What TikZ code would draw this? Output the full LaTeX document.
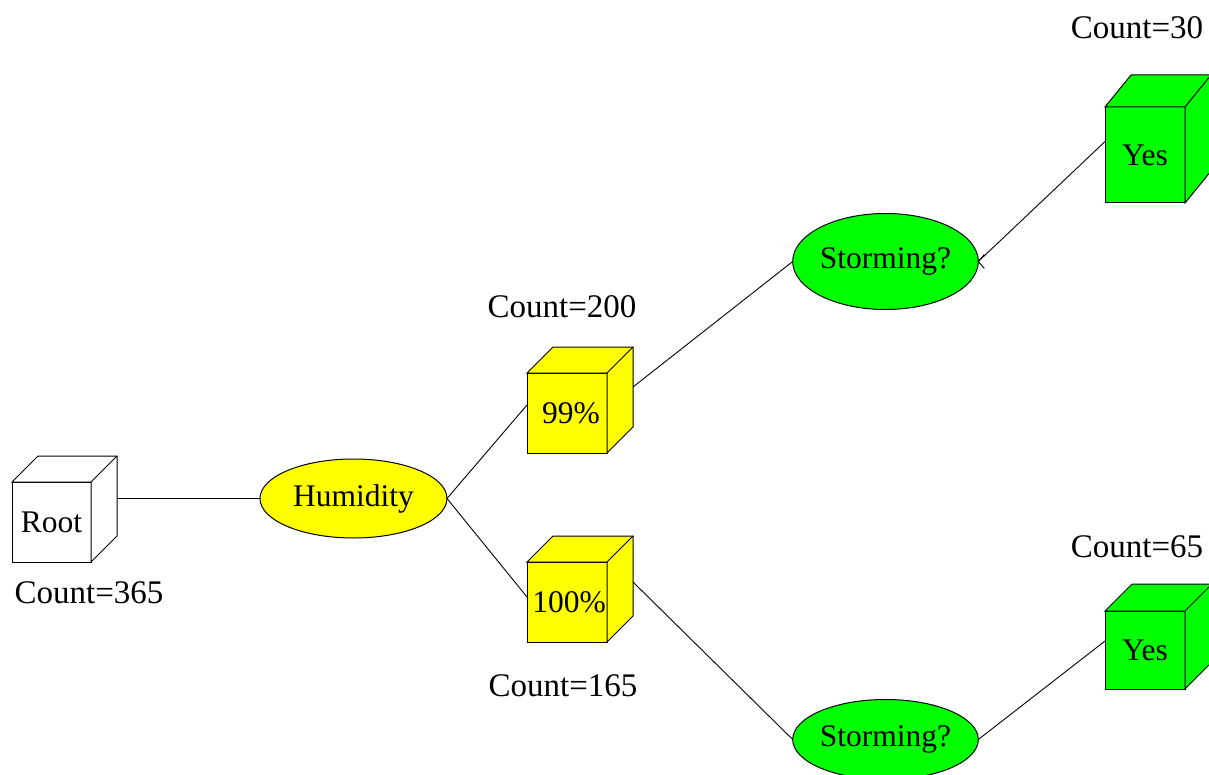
\documentclass[tikz,border=0pt]{standalone}
\usepackage{fontspec}
\setmainfont{Liberation Serif}
\usetikzlibrary{calc,shapes.geometric}
\definecolor{cubeyellow}{RGB}{255,255,0}
\definecolor{cubegreen}{RGB}{0,255,0}
\tikzset{
  face/.style={draw, line width=1pt, inner sep=0pt, outer sep=0pt, line join=miter, font=\fontsize{31.5}{36}\selectfont},
  oval/.style={ellipse, draw, line width=1pt, inner sep=0pt, outer sep=0pt, font=\fontsize{31.5}{36}\selectfont},
  lab/.style={anchor=base, font=\fontsize{33}{40}\selectfont, inner sep=0pt},
  link/.style={line width=0.9pt},
  edge3d/.style={line width=1pt, line join=miter},
}
% name, cx, cy, w, h, dx, dy, colour, text
\newcommand\drawcube[9]{%
  \node[face, fill=#8, minimum width=#4pt, minimum height=#5pt] (#1) at (#2,#3) {#9};
  \draw[edge3d, fill=#8] (#1.north west) -- ++(#6,-#7) -- ++(#4,0) -- ++(0,#5) -- (#1.south east) -- (#1.north east) -- cycle;
  \draw[edge3d] (#1.north east) -- ++(#6,-#7);
  \coordinate (#1-r) at ($(#1.east)+(#6,-#7)$);
}
\begin{document}
\begin{tikzpicture}[x=1pt,y=-1pt]
\useasboundingbox (0,0) rectangle (1209,775);
\clip (0,0) rectangle (1209,775);

% cubes
\drawcube{root}{51.5}{522}{79}{80}{26}{26}{white}{Root}
\drawcube{c99}{567}{413}{80}{80}{26}{26}{cubeyellow}{\hspace*{8pt}99\%}
\drawcube{c100}{567}{602}{80}{80}{26}{26}{cubeyellow}{\hspace*{4pt}100\%}
\drawcube{yes1}{1145}{155}{80}{96}{26}{32}{cubegreen}{Yes}
\drawcube{yes2}{1145}{650}{80}{78}{27}{27}{cubegreen}{Yes}

% ellipses
\node[oval, fill=cubeyellow, minimum width=187pt, minimum height=79pt] (hum) at (353.5,498.5) {Humidity};
\node[oval, fill=cubegreen, minimum width=185pt, minimum height=96pt] (s1) at (885.5,261.5) {Storming?};
\node[oval, fill=cubegreen, minimum width=185pt, minimum height=80pt] (s2) at (885.5,739.5) {Storming?};

% labels
\node[lab] (l365) at (89,603) {Count=365};
\node[lab] (l200) at (562,318) {Count=200};
\node[lab] (l165) at (563,696) {Count=165};
\node[lab] (l30) at (1137,39) {Count=30};
\node[lab] (l65) at (1137,557) {Count=65};

% connectors
\draw[link] (root-r |- hum.west) -- (hum.west);
\draw[link] (hum.east) -- ([yshift=8pt]c99.west);
\draw[link] (hum.east) -- ([yshift=5pt]c100.west);
\draw[link] (c99-r) -- (s1.west);
\draw[link] ([yshift=-6pt]c100-r) -- (s2.west);
\draw[link] ($(yes1.north west)!0.36!(yes1.south west)$) -- (s1.east);
\draw[link] ($(s1.east)+(6,-7)$) -- (s1.east) -- ($(s1.east)+(6,7)$);
\draw[link] ($(yes2.north west)!0.385!(yes2.south west)$) -- (s2.east);
\end{tikzpicture}
\end{document}
